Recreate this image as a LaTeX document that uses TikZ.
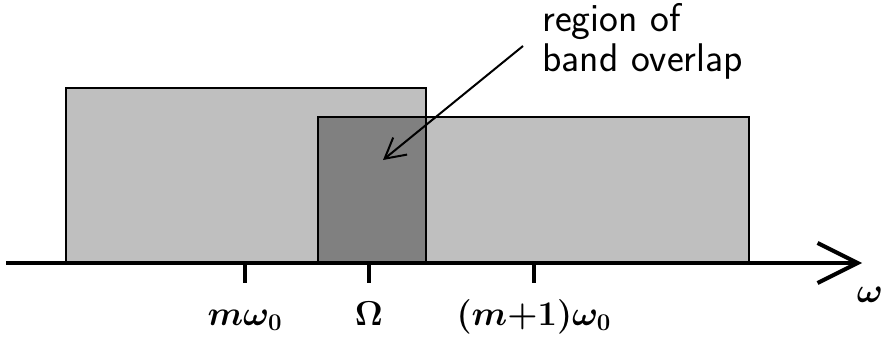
\documentclass[tikz,border=0pt]{standalone}
\usepackage{amsmath}
\usepackage{fontspec}
\usetikzlibrary{arrows.meta}
\begin{document}
\begin{tikzpicture}[x=0.5pt,y=0.5pt,
  band/.style={line width=1pt},
  tickmark/.style={line width=2pt},
  freq/.style={font=\fontsize{18}{20}\selectfont\boldmath, anchor=base, inner sep=0pt}]
\useasboundingbox (0,-74) rectangle (886,263);
% bands
\fill[gray!50] (66,0) rectangle (426,175);
\fill[gray!50] (318,0) rectangle (749,146);
\fill[gray] (318,0) rectangle (426,146);
\draw[band] (66,0) rectangle (426,175);
\draw[band] (318,0) rectangle (749,146);
% frequency axis
\coordinate (o) at (6,0);
\coordinate (e) at (862,0);
\draw[line width=2pt, -{Straight Barb[length=20pt,width=20pt]}] (o) -- (e);
\node[freq] (w) at (870,-39) {$\omega$};
\foreach \x/\name/\txt in {245/m/{m\omega_0}, 369/W/{\Omega}, 534/mp/{(m{+}1)\omega_0}} {
  \draw[tickmark] (\x,0) -- (\x,-20);
  \node[freq] (\name) at (\x,-62) {$\txt$};
}
% label
\node[font=\fontsize{20}{20}\selectfont\sffamily, align=left, anchor=base west, inner sep=0pt] (lbl) at (542,191) {region of\\band overlap};
\coordinate (src) at (523,217);
\coordinate (tip) at (383,103);
\draw[line width=1pt, -{Straight Barb[length=10pt,width=11pt]}] (src) -- (tip);
\end{tikzpicture}
\end{document}
